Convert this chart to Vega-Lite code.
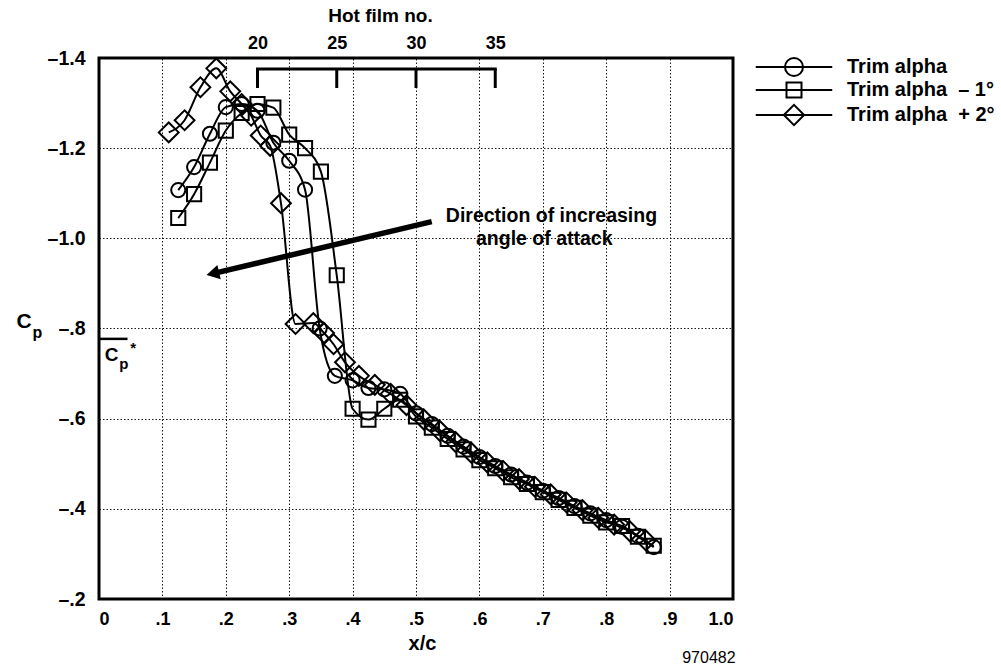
{
  "$schema": "https://vega.github.io/schema/vega-lite/v6.json",
  "width": 634,
  "height": 541,
  "autosize": {"type": "none"},
  "padding": {"left": 99, "top": 58, "right": 268, "bottom": 66},
  "background": "white",
  "config": {
    "font": "Liberation Sans",
    "view": {"stroke": "black", "strokeWidth": 3},
    "axis": {
      "domain": false, "ticks": false,
      "labelColor": "black", "labelFont": "Liberation Sans", "labelFontWeight": "bold", "labelFontSize": 18,
      "titleColor": "black", "titleFont": "Liberation Sans", "titleFontWeight": "bold", "titleFontSize": 19,
      "gridColor": "black", "gridDash": [1.5, 2], "gridWidth": 1, "gridOpacity": 0.9
    },
    "text": {"font": "Liberation Sans", "fontWeight": "bold", "color": "black"}
  },
  "resolve": {"scale": {"x": "independent"}},
  "layer": [
    {
      "data": {"values": [
        {"series": "Trim alpha", "xc": 0.125, "cp": -1.107},
        {"series": "Trim alpha", "xc": 0.15, "cp": -1.158},
        {"series": "Trim alpha", "xc": 0.175, "cp": -1.232},
        {"series": "Trim alpha", "xc": 0.2, "cp": -1.291},
        {"series": "Trim alpha", "xc": 0.225, "cp": -1.298},
        {"series": "Trim alpha", "xc": 0.25, "cp": -1.283},
        {"series": "Trim alpha", "xc": 0.275, "cp": -1.212},
        {"series": "Trim alpha", "xc": 0.3, "cp": -1.172},
        {"series": "Trim alpha", "xc": 0.325, "cp": -1.108},
        {"series": "Trim alpha", "xc": 0.348, "cp": -0.8},
        {"series": "Trim alpha", "xc": 0.372, "cp": -0.695},
        {"series": "Trim alpha", "xc": 0.4, "cp": -0.685},
        {"series": "Trim alpha", "xc": 0.425, "cp": -0.668},
        {"series": "Trim alpha", "xc": 0.45, "cp": -0.665},
        {"series": "Trim alpha", "xc": 0.475, "cp": -0.655},
        {"series": "Trim alpha", "xc": 0.5, "cp": -0.612},
        {"series": "Trim alpha", "xc": 0.525, "cp": -0.588},
        {"series": "Trim alpha", "xc": 0.55, "cp": -0.562},
        {"series": "Trim alpha", "xc": 0.575, "cp": -0.538},
        {"series": "Trim alpha", "xc": 0.6, "cp": -0.515},
        {"series": "Trim alpha", "xc": 0.625, "cp": -0.495},
        {"series": "Trim alpha", "xc": 0.65, "cp": -0.476},
        {"series": "Trim alpha", "xc": 0.675, "cp": -0.458},
        {"series": "Trim alpha", "xc": 0.7, "cp": -0.44},
        {"series": "Trim alpha", "xc": 0.725, "cp": -0.424},
        {"series": "Trim alpha", "xc": 0.75, "cp": -0.406},
        {"series": "Trim alpha", "xc": 0.775, "cp": -0.39},
        {"series": "Trim alpha", "xc": 0.8, "cp": -0.375},
        {"series": "Trim alpha", "xc": 0.825, "cp": -0.36},
        {"series": "Trim alpha", "xc": 0.85, "cp": -0.34},
        {"series": "Trim alpha", "xc": 0.875, "cp": -0.315},

        {"series": "Trim alpha\u00a0\u00a0\u2013 1°", "xc": 0.125, "cp": -1.045},
        {"series": "Trim alpha\u00a0\u00a0\u2013 1°", "xc": 0.15, "cp": -1.098},
        {"series": "Trim alpha\u00a0\u00a0\u2013 1°", "xc": 0.175, "cp": -1.168},
        {"series": "Trim alpha\u00a0\u00a0\u2013 1°", "xc": 0.2, "cp": -1.239},
        {"series": "Trim alpha\u00a0\u00a0\u2013 1°", "xc": 0.225, "cp": -1.278},
        {"series": "Trim alpha\u00a0\u00a0\u2013 1°", "xc": 0.25, "cp": -1.298},
        {"series": "Trim alpha\u00a0\u00a0\u2013 1°", "xc": 0.275, "cp": -1.29},
        {"series": "Trim alpha\u00a0\u00a0\u2013 1°", "xc": 0.3, "cp": -1.23},
        {"series": "Trim alpha\u00a0\u00a0\u2013 1°", "xc": 0.325, "cp": -1.2},
        {"series": "Trim alpha\u00a0\u00a0\u2013 1°", "xc": 0.35, "cp": -1.148},
        {"series": "Trim alpha\u00a0\u00a0\u2013 1°", "xc": 0.375, "cp": -0.918},
        {"series": "Trim alpha\u00a0\u00a0\u2013 1°", "xc": 0.4, "cp": -0.622},
        {"series": "Trim alpha\u00a0\u00a0\u2013 1°", "xc": 0.425, "cp": -0.598},
        {"series": "Trim alpha\u00a0\u00a0\u2013 1°", "xc": 0.45, "cp": -0.622},
        {"series": "Trim alpha\u00a0\u00a0\u2013 1°", "xc": 0.475, "cp": -0.642},
        {"series": "Trim alpha\u00a0\u00a0\u2013 1°", "xc": 0.5, "cp": -0.605},
        {"series": "Trim alpha\u00a0\u00a0\u2013 1°", "xc": 0.525, "cp": -0.58},
        {"series": "Trim alpha\u00a0\u00a0\u2013 1°", "xc": 0.55, "cp": -0.555},
        {"series": "Trim alpha\u00a0\u00a0\u2013 1°", "xc": 0.575, "cp": -0.532},
        {"series": "Trim alpha\u00a0\u00a0\u2013 1°", "xc": 0.6, "cp": -0.508},
        {"series": "Trim alpha\u00a0\u00a0\u2013 1°", "xc": 0.625, "cp": -0.49},
        {"series": "Trim alpha\u00a0\u00a0\u2013 1°", "xc": 0.65, "cp": -0.47},
        {"series": "Trim alpha\u00a0\u00a0\u2013 1°", "xc": 0.675, "cp": -0.455},
        {"series": "Trim alpha\u00a0\u00a0\u2013 1°", "xc": 0.7, "cp": -0.437},
        {"series": "Trim alpha\u00a0\u00a0\u2013 1°", "xc": 0.725, "cp": -0.42},
        {"series": "Trim alpha\u00a0\u00a0\u2013 1°", "xc": 0.75, "cp": -0.402},
        {"series": "Trim alpha\u00a0\u00a0\u2013 1°", "xc": 0.775, "cp": -0.385},
        {"series": "Trim alpha\u00a0\u00a0\u2013 1°", "xc": 0.8, "cp": -0.37},
        {"series": "Trim alpha\u00a0\u00a0\u2013 1°", "xc": 0.825, "cp": -0.362},
        {"series": "Trim alpha\u00a0\u00a0\u2013 1°", "xc": 0.85, "cp": -0.338},
        {"series": "Trim alpha\u00a0\u00a0\u2013 1°", "xc": 0.875, "cp": -0.318},

        {"series": "Trim alpha\u00a0\u00a0+ 2°", "xc": 0.11, "cp": -1.235},
        {"series": "Trim alpha\u00a0\u00a0+ 2°", "xc": 0.135, "cp": -1.262},
        {"series": "Trim alpha\u00a0\u00a0+ 2°", "xc": 0.16, "cp": -1.335},
        {"series": "Trim alpha\u00a0\u00a0+ 2°", "xc": 0.185, "cp": -1.377},
        {"series": "Trim alpha\u00a0\u00a0+ 2°", "xc": 0.207, "cp": -1.326},
        {"series": "Trim alpha\u00a0\u00a0+ 2°", "xc": 0.225, "cp": -1.298},
        {"series": "Trim alpha\u00a0\u00a0+ 2°", "xc": 0.24, "cp": -1.272},
        {"series": "Trim alpha\u00a0\u00a0+ 2°", "xc": 0.255, "cp": -1.228},
        {"series": "Trim alpha\u00a0\u00a0+ 2°", "xc": 0.27, "cp": -1.205},
        {"series": "Trim alpha\u00a0\u00a0+ 2°", "xc": 0.287, "cp": -1.078},
        {"series": "Trim alpha\u00a0\u00a0+ 2°", "xc": 0.31, "cp": -0.81},
        {"series": "Trim alpha\u00a0\u00a0+ 2°", "xc": 0.338, "cp": -0.812},
        {"series": "Trim alpha\u00a0\u00a0+ 2°", "xc": 0.355, "cp": -0.79},
        {"series": "Trim alpha\u00a0\u00a0+ 2°", "xc": 0.37, "cp": -0.765},
        {"series": "Trim alpha\u00a0\u00a0+ 2°", "xc": 0.388, "cp": -0.725},
        {"series": "Trim alpha\u00a0\u00a0+ 2°", "xc": 0.41, "cp": -0.695},
        {"series": "Trim alpha\u00a0\u00a0+ 2°", "xc": 0.435, "cp": -0.675},
        {"series": "Trim alpha\u00a0\u00a0+ 2°", "xc": 0.46, "cp": -0.655},
        {"series": "Trim alpha\u00a0\u00a0+ 2°", "xc": 0.485, "cp": -0.63},
        {"series": "Trim alpha\u00a0\u00a0+ 2°", "xc": 0.5125, "cp": -0.598},
        {"series": "Trim alpha\u00a0\u00a0+ 2°", "xc": 0.5375, "cp": -0.573},
        {"series": "Trim alpha\u00a0\u00a0+ 2°", "xc": 0.5625, "cp": -0.548},
        {"series": "Trim alpha\u00a0\u00a0+ 2°", "xc": 0.5875, "cp": -0.524},
        {"series": "Trim alpha\u00a0\u00a0+ 2°", "xc": 0.6125, "cp": -0.503},
        {"series": "Trim alpha\u00a0\u00a0+ 2°", "xc": 0.6375, "cp": -0.484},
        {"series": "Trim alpha\u00a0\u00a0+ 2°", "xc": 0.6625, "cp": -0.466},
        {"series": "Trim alpha\u00a0\u00a0+ 2°", "xc": 0.6875, "cp": -0.449},
        {"series": "Trim alpha\u00a0\u00a0+ 2°", "xc": 0.7125, "cp": -0.432},
        {"series": "Trim alpha\u00a0\u00a0+ 2°", "xc": 0.7375, "cp": -0.414},
        {"series": "Trim alpha\u00a0\u00a0+ 2°", "xc": 0.7625, "cp": -0.397},
        {"series": "Trim alpha\u00a0\u00a0+ 2°", "xc": 0.7875, "cp": -0.38},
        {"series": "Trim alpha\u00a0\u00a0+ 2°", "xc": 0.8125, "cp": -0.365},
        {"series": "Trim alpha\u00a0\u00a0+ 2°", "xc": 0.8375, "cp": -0.35},
        {"series": "Trim alpha\u00a0\u00a0+ 2°", "xc": 0.8625, "cp": -0.33}
      ]},
      "resolve": {"scale": {"shape": "independent"}},
      "layer": [
        {
          "mark": {"type": "line", "interpolate": "monotone", "color": "black", "strokeWidth": 2},
          "encoding": {
            "x": {"field": "xc", "type": "quantitative",
              "scale": {"domain": [0, 1], "nice": false, "zero": false},
              "axis": {"values": [0, 0.1, 0.2, 0.3, 0.4, 0.5, 0.6, 0.7, 0.8, 0.9, 1],
                "labelExpr": "datum.value == 0 ? '0' : datum.value >= 0.99 ? '1.0' : replace(format(datum.value, '.1f'), '0.', '.')",
                "labelPadding": 11, "grid": true, "title": "x/c", "titleX": 323, "titleY": 44, "titleBaseline": "middle", "titleFontSize": 20}},
            "y": {"field": "cp", "type": "quantitative",
              "scale": {"domain": [-1.4, -0.2], "reverse": true, "nice": false, "zero": false},
              "axis": {"values": [-1.4, -1.2, -1.0, -0.8, -0.6, -0.4, -0.2],
                "labelExpr": "datum.value <= -0.99 ? '\u2013' + format(-datum.value, '.1f') : '\u2013' + replace(format(-datum.value, '.1f'), '0.', '.')",
                "labelPadding": 14, "labelFontSize": 19.5, "grid": true, "title": null}},
            "detail": {"field": "series", "type": "nominal"}
          }
        },
        {
          "mark": {"type": "point", "filled": false, "color": "black", "strokeWidth": 2, "opacity": 1, "size": 200},
          "encoding": {
            "x": {"field": "xc", "type": "quantitative"},
            "y": {"field": "cp", "type": "quantitative"},
            "shape": {"field": "series", "type": "nominal",
              "scale": {"domain": ["Trim alpha", "Trim alpha\u00a0\u00a0\u2013 1°", "Trim alpha\u00a0\u00a0+ 2°"],
                "range": ["circle", "square", "M-1.4,0L0,-1.4L1.4,0L0,1.4Z"]},
              "legend": null}
          }
        },
        {
          "transform": [{"filter": "false"}],
          "mark": {"type": "point", "filled": false, "color": "black", "strokeWidth": 2, "opacity": 1, "size": 225},
          "encoding": {
            "x": {"field": "xc", "type": "quantitative"},
            "y": {"field": "cp", "type": "quantitative"},
            "shape": {"field": "series", "type": "nominal",
              "scale": {"domain": ["Trim alpha", "Trim alpha\u00a0\u00a0\u2013 1°", "Trim alpha\u00a0\u00a0+ 2°"],
                "range": [
                  "M-5.1,0H5.1M1.2,0A1.2,1.2 0 1,1 -1.2,0A1.2,1.2 0 1,1 1.2,0",
                  "M-5.1,0H5.1M-1,-1H1V1H-1Z",
                  "M-5.1,0H5.1M-1.35,0L0,-1.35L1.35,0L0,1.35Z"]},
              "legend": {"orient": "none", "legendX": 685, "legendY": -1, "title": null, "padding": 0,
                "labelFont": "Liberation Sans", "labelFontWeight": "bold", "labelFontSize": 20, "labelColor": "black",
                "labelOffset": 43, "rowPadding": -2, "symbolSize": 225, "symbolStrokeWidth": 2,
                "symbolStrokeColor": "black", "symbolFillColor": "transparent"}}
          }
        },
        {
          "data": {"values": [{"label": "C"}]},
          "mark": {"type": "text", "fontSize": 21, "fontWeight": "bold", "align": "center", "baseline": "middle"},
          "encoding": {"x": {"datum": -0.118}, "y": {"datum": -0.814}, "text": {"field": "label"}}
        },
        {
          "data": {"values": [{"label": "p"}]},
          "mark": {"type": "text", "fontSize": 16, "fontWeight": "bold", "align": "center", "baseline": "middle"},
          "encoding": {"x": {"datum": -0.097}, "y": {"datum": -0.79}, "text": {"field": "label"}}
        },
        {
          "data": {"values": [{"label": "Cp*"}]},
          "mark": {"type": "rule", "color": "black", "strokeWidth": 2.5},
          "encoding": {"x": {"datum": 0}, "x2": {"datum": 0.045}, "y": {"datum": -0.777}}
        },
        {
          "data": {"values": [{"label": "C"}]},
          "mark": {"type": "text", "fontSize": 19, "fontWeight": "bold", "align": "center", "baseline": "middle"},
          "encoding": {"x": {"datum": 0.02}, "y": {"datum": -0.741}, "text": {"field": "label"}}
        },
        {
          "data": {"values": [{"label": "p"}]},
          "mark": {"type": "text", "fontSize": 15, "fontWeight": "bold", "align": "center", "baseline": "middle"},
          "encoding": {"x": {"datum": 0.039}, "y": {"datum": -0.722}, "text": {"field": "label"}}
        },
        {
          "data": {"values": [{"label": "*"}]},
          "mark": {"type": "text", "fontSize": 15, "fontWeight": "bold", "align": "center", "baseline": "middle"},
          "encoding": {"x": {"datum": 0.054}, "y": {"datum": -0.757}, "text": {"field": "label"}}
        },
        {
          "data": {"values": [{"label": "arrow"}]},
          "mark": {"type": "rule", "color": "black", "strokeWidth": 5.5},
          "encoding": {"x": {"datum": 0.5248}, "y": {"datum": -1.037}, "x2": {"datum": 0.1795}, "y2": {"datum": -0.9217}}
        },
        {
          "data": {"values": [{"label": "arrowhead"}]},
          "mark": {"type": "point", "shape": "triangle-left", "filled": true, "color": "black", "size": 220, "angle": 346.7, "opacity": 1},
          "encoding": {"x": {"datum": 0.1795}, "y": {"datum": -0.9217}}
        },
        {
          "data": {"values": [{"label": "Direction of increasing"}]},
          "mark": {"type": "text", "fontSize": 19.5, "fontWeight": "bold", "align": "left", "baseline": "middle"},
          "encoding": {"x": {"datum": 0.547}, "y": {"datum": -1.0495}, "text": {"field": "label"}}
        },
        {
          "data": {"values": [{"label": "angle of attack"}]},
          "mark": {"type": "text", "fontSize": 19.5, "fontWeight": "bold", "align": "left", "baseline": "middle"},
          "encoding": {"x": {"datum": 0.5946}, "y": {"datum": -0.9985}, "text": {"field": "label"}}
        },
        {
          "data": {"values": [{"label": "970482"}]},
          "mark": {"type": "text", "fontSize": 16, "fontWeight": "normal", "align": "center", "baseline": "middle"},
          "encoding": {"x": {"datum": 0.962}, "y": {"datum": -0.069}, "text": {"field": "label"}}
        }
      ]
    },
    {
      "data": {"values": [{"film": 20}, {"film": 25}, {"film": 30}, {"film": 35}]},
      "layer": [
        {
          "mark": {"type": "rule", "color": "black", "strokeWidth": 3},
          "encoding": {
            "x": {"field": "film", "type": "quantitative",
              "scale": {"domain": [10, 50], "nice": false, "zero": false},
              "axis": {"orient": "top", "values": [20, 25, 30, 35], "format": "d", "grid": false, "labelPadding": 6,
                "title": "Hot film no.", "titleX": 281, "titleY": -43, "titleBaseline": "middle"}},
            "y": {"datum": -1.3756, "scale": {"domain": [-1.4, -0.2], "reverse": true, "nice": false, "zero": false}},
            "y2": {"datum": -1.3335}
          }
        },
        {
          "data": {"values": [{"first": 20, "last": 35}]},
          "mark": {"type": "rule", "color": "black", "strokeWidth": 3, "strokeCap": "square"},
          "encoding": {
            "x": {"field": "first", "type": "quantitative"},
            "x2": {"field": "last"},
            "y": {"datum": -1.3756}
          }
        }
      ]
    }
  ]
}
